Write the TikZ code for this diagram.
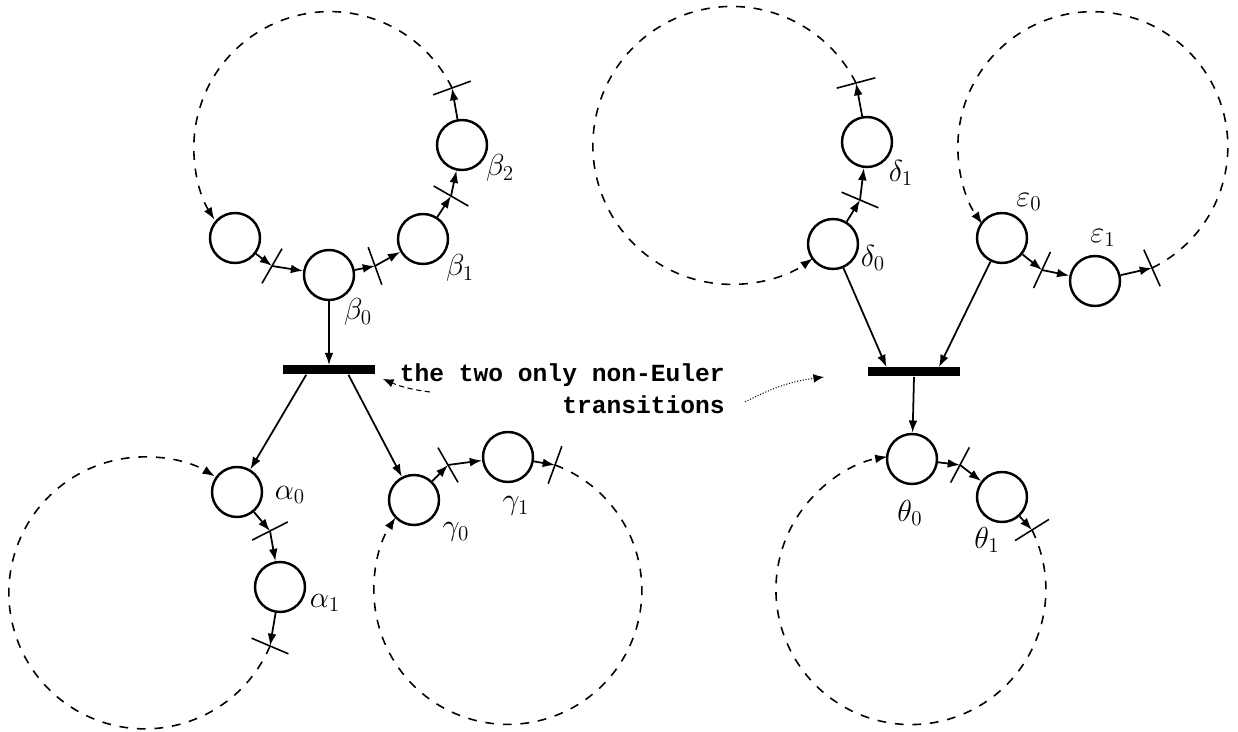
\documentclass[tikz,border=0pt]{standalone}
\usepackage{fontspec}
\usetikzlibrary{arrows.meta}
\newfontfamily\typewriter{Liberation Mono}
\tikzstyle{place}=[circle, draw, line width=1.4pt, minimum size=1cm, inner sep=0pt]
\tikzstyle{bar}=[rectangle, fill=black, minimum width=1.84cm, minimum height=0.18cm, inner sep=0pt]
\tikzstyle{tickmark}=[rectangle, draw, line width=0.9pt, minimum width=0.8cm, minimum height=0pt, inner sep=0pt, outer sep=0pt]
\tikzstyle{flow}=[line width=1pt, -{Latex[length=7pt,width=5pt]}]
\tikzstyle{loopback}=[flow, line width=0.9pt, dash pattern=on 5pt off 5pt]
\tikzstyle{pointer}=[line width=0.6pt, densely dashed, -{Latex[length=6pt,width=5pt]}]
\tikzstyle{lbl}=[inner sep=0pt, font=\LARGE]

\begin{document}
\begin{tikzpicture}[x=0.02cm, y=-0.02cm]
	\useasboundingbox (0,0) rectangle (1238,732);
	% places
	\node[place] (p) at (235,238) {};
	\node[place] (b0) at (329,275) {};
	\node[place] (b1) at (423,239) {};
	\node[place] (b2) at (462,145) {};
	\node[place] (a0) at (237,492) {};
	\node[place] (a1) at (280,587) {};
	\node[place] (g0) at (414,500) {};
	\node[place] (g1) at (508,457) {};
	\node[place] (d0) at (833,244) {};
	\node[place] (d1) at (867,142) {};
	\node[place] (e0) at (1002,238) {};
	\node[place] (e1) at (1095,281) {};
	\node[place] (h0) at (912,459) {};
	\node[place] (h1) at (1002,497) {};
	% the two non-Euler transitions
	\node[bar] (T1) at (329,370) {};
	\node[bar] (T2) at (914,372) {};
	% the other transitions, drawn as ticks
	\node[tickmark, rotate=60] (tA) at (272,266) {};
	\node[tickmark, rotate=-70] (tB) at (375,266) {};
	\node[tickmark, rotate=-30] (tC) at (451,196) {};
	\node[tickmark, rotate=20] (tD) at (452,88) {};
	\node[tickmark, rotate=27] (tE) at (270,531) {};
	\node[tickmark, rotate=-23] (tF) at (270,646) {};
	\node[tickmark, rotate=-60] (tG) at (448,465) {};
	\node[tickmark, rotate=70] (tH) at (555,465) {};
	\node[tickmark, rotate=-23] (tI) at (860,200) {};
	\node[tickmark, rotate=15] (tJ) at (856,83) {};
	\node[tickmark, rotate=65] (tK) at (1042,270) {};
	\node[tickmark, rotate=-66] (tL) at (1152,268) {};
	\node[tickmark, rotate=62] (tM) at (960,465) {};
	\node[tickmark, rotate=32] (tN) at (1032,530) {};
	% labels
	\node[lbl] (lb0) at (358,312) {$\beta_0$};
	\node[lbl] (lb1) at (460,268) {$\beta_1$};
	\node[lbl] (lb2) at (500,168) {$\beta_2$};
	\node[lbl] (la0) at (290,495) {$\alpha_0$};
	\node[lbl] (la1) at (325,603) {$\alpha_1$};
	\node[lbl] (lg0) at (456,532) {$\gamma_0$};
	\node[lbl] (lg1) at (516,506) {$\gamma_1$};
	\node[lbl] (ld0) at (873,258) {$\delta_0$};
	\node[lbl] (ld1) at (901,173) {$\delta_1$};
	\node[lbl] (le0) at (1029,202) {$\varepsilon_0$};
	\node[lbl] (le1) at (1103,238) {$\varepsilon_1$};
	\node[lbl] (lh0) at (910,513) {$\theta_0$};
	\node[lbl] (lh1) at (987,540) {$\theta_1$};
	% arcs
	\draw[flow] (p)--(tA.center); \draw[flow] (tA.center)--(b0);
	\draw[flow] (b0)--(tB.center); \draw[flow] (tB.center)--(b1);
	\draw[flow] (b1)--(tC.center); \draw[flow] (tC.center)--(b2);
	\draw[flow] (b2)--(tD.center);
	\draw[flow] (b0)--(T1.north);
	\draw[flow] (T1.192)--(a0); \draw[flow] (T1.346)--(g0);
	\draw[flow] (a0)--(tE.center); \draw[flow] (tE.center)--(a1);
	\draw[flow] (a1)--(tF.center);
	\draw[flow] (g0)--(tG.center); \draw[flow] (tG.center)--(g1);
	\draw[flow] (g1)--(tH.center);
	\draw[flow] (d0)--(tI.center); \draw[flow] (tI.center)--(d1);
	\draw[flow] (d1)--(tJ.center);
	\draw[flow] (e0)--(tK.center); \draw[flow] (tK.center)--(e1);
	\draw[flow] (e1)--(tL.center);
	\draw[flow] (d0)--(T2.170); \draw[flow] (e0)--(T2.11);
	\draw[flow] (T2.south)--(h0);
	\draw[flow] (h0)--(tM.center); \draw[flow] (tM.center)--(h1);
	\draw[flow] (h1)--(tN.center);
	% the rest of each cycle
	\draw[loopback] (tD.center) arc[start angle=26, end angle=212, radius=2.72cm];
	\draw[loopback] (tF.center) arc[start angle=-23, end angle=-301, radius=2.72cm];
	\draw[loopback] (tH.center) arc[start angle=69.4, end angle=-213, radius=2.68cm];
	\draw[loopback] (tJ.center) arc[start angle=26.7, end angle=305.6, radius=2.78cm];
	\draw[loopback] (tL.center) arc[start angle=-64, end angle=215, radius=2.7cm];
	\draw[loopback] (tN.center) arc[start angle=26.2, end angle=-260, radius=2.7cm];
	% note
	\node[anchor=east, align=right, inner sep=0pt, font=\typewriter\bfseries\fontsize{14}{18}\selectfont] (note) at (725,389) {the two only non-Euler\\transitions};
	\coordinate (nA) at (430,392); \coordinate (nB) at (383,379);
	\coordinate (nC) at (745,402); \coordinate (nD) at (824,377);
	\draw[pointer] (nA) to[bend left=8] (nB);
	\draw[pointer, densely dotted] (nC) to[bend left=10] (nD);
\end{tikzpicture}
\end{document}
